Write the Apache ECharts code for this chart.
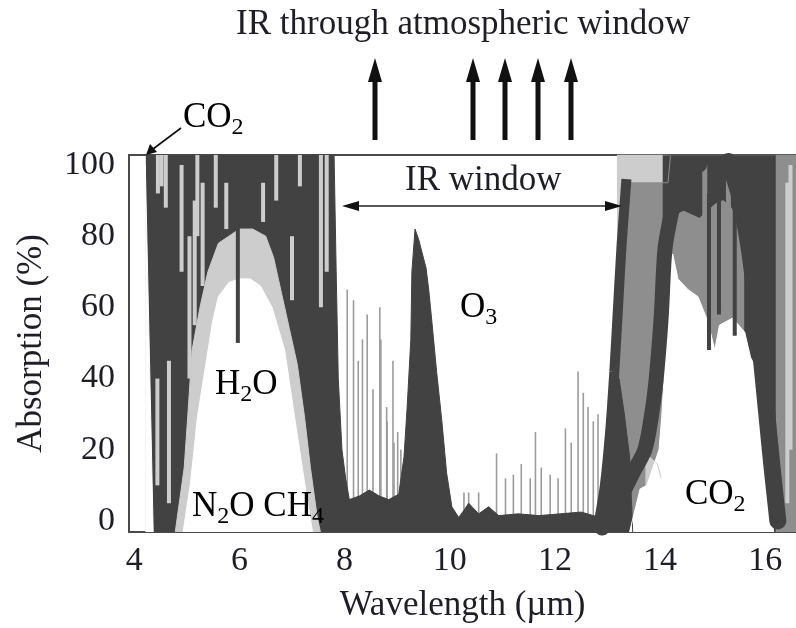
<!DOCTYPE html>
<html>
<head>
<meta charset="utf-8">
<script src="https://cdn.jsdelivr.net/npm/echarts@6/dist/echarts.min.js"></script>
<style>html,body{margin:0;padding:0;background:#fff}#c{width:796px;height:628px}</style>
</head>
<body>
<div id="c"></div>
<script>
// ---- tick labels ----
const xTicks = [4, 6, 8, 10, 12, 14, 16];
const yTicks = [0, 20, 40, 60, 80, 100];

// ---- dark absorption envelope: H2O band, window low band, O3 peak ----
const darkMainX = [4.22, 7.80, 7.84, 7.88, 7.95, 8.02, 8.09, 8.28, 8.47, 8.66, 8.84, 9.03, 9.13, 9.19, 9.26, 9.28, 9.34, 9.41, 9.55, 9.60, 9.66, 9.75, 9.85, 9.94, 10.04, 10.17, 10.27, 10.36, 10.55, 10.74, 10.93, 11.30, 11.70, 12.10, 12.50, 12.85];
const darkMainY = [102.8, 102.8, 70, 40, 20, 12, 6, 7, 8.7, 7, 6, 7.5, 18, 32, 51, 70, 82, 79, 71, 65, 56, 42, 28, 13.5, 4, 1, 3, 5, 2, 4, 1.5, 2, 1.5, 2, 2.5, 1];
// slanted left edge of the band (transparent wedge)
const h2oEdgeX = [4.21, 4.36];
const h2oEdgeY = [100, -3.1];

// ---- H2O band: light fringe and transparent (white) hole ----
const h2oLightX = [4.78, 4.95, 5.02, 5.10, 5.25, 5.40, 5.60, 5.80, 6.00, 6.25, 6.50, 6.65, 6.80, 6.95, 7.10, 7.24, 7.35, 7.48, 7.54];
const h2oLightY = [-3.1, 15, 30, 48, 60, 70, 78, 80, 82, 82, 80, 74, 64, 54, 44, 29, 15, 1, -3.1];
const h2oHoleX = [4.93, 5.07, 5.20, 5.35, 5.49, 5.60, 5.80, 6.00, 6.20, 6.40, 6.62, 6.86, 7.05, 7.24, 7.39];
const h2oHoleY = [-3.1, 10.7, 29, 43, 56, 63, 67, 68, 68, 66, 60, 48, 29, 10.7, -3.1];

// ---- CO2 15 um band ----
const co2LightX = [13.18, 14.20];
const co2LightY = [102.8, 102.8];
const co2MidX = [12.88, 13.00, 13.10, 13.20, 13.28, 13.34, 13.40, 14.15, 14.20, 16.60];
const co2MidY = [-3.1, 15, 35, 60, 80, 90, 95, 95, 102.8, 102.8];
const co2BaseX = [12.80, 12.92, 13.02, 13.12, 13.22, 13.32, 13.42, 13.48];
const co2BaseY = [-3.1, 10, 24, 36, 40, 30, 18, -3.1];
const co2EdgeX = [12.84, 12.95, 13.05, 13.13, 13.20, 13.27, 13.33, 13.36];
const co2EdgeY = [0, 10, 25, 42, 60, 78, 90, 96];
const co2CapX = [14.05, 16.20];
const co2CapY = [102.8, 102.8];
const co2MidHoleX = [14.15, 14.30, 14.45, 14.60, 14.75, 14.90, 15.05, 15.20, 15.35, 15.50, 15.60];
const co2MidHoleY = [84, 86, 87, 86, 85, 87, 89, 90, 88, 84, 70];
const co2BlobX = [13.72, 13.80, 13.95, 14.02];
const co2BlobY = [18, 18, 16, 12];
const co2HoleX = [13.42, 13.62, 13.75, 13.98, 14.03, 14.07, 14.11, 14.16, 14.24, 14.34, 14.53, 14.72, 14.91, 15.04, 15.13, 15.38, 15.61, 15.72, 15.85, 15.98, 16.10, 16.16];
const co2HoleY = [-3.1, 9, 10, 20, 29, 39, 57, 70, 75, 68, 65, 63, 56, 48, 55, 57, 53, 46, 42, 23, 4, -3.1];
const co2LeftStripeX = [12.90, 13.10, 13.30, 13.50, 13.71, 13.83, 13.92, 14.02, 14.09, 14.18, 14.28, 14.45, 14.58, 14.75];
const co2LeftStripeY = [-2, 2, 8, 14, 20, 29, 39, 57, 76, 84, 90, 96, 99, 100];
const co2RightStripeX = [15.30, 15.50, 15.68, 15.82, 15.93, 16.03, 16.13, 16.24];
const co2RightStripeY = [101, 92, 78, 62, 45, 30, 15, 0];

// ---- individual absorption lines (spikes) in the window ----
const spikeX = [8.05, 8.17, 8.26, 8.34, 8.43, 8.54, 8.67, 8.69, 8.80, 8.81, 8.92, 8.94, 9.01, 9.07, 10.27, 10.36, 10.55, 10.89, 11.06, 11.21, 11.36, 11.53, 11.63, 11.74, 11.91, 12.06, 12.20, 12.31, 12.44, 12.54, 12.63, 12.73, 12.82, 12.95];
const spikeH = [65, 62, 45, 51, 58, 37, 60, 51, 32, 28, 45, 22, 25, 20, 8, 8, 8, 19, 12, 13, 16, 12, 25, 15, 13, 12, 26, 22, 42, 36, 32, 28, 30, 22];

// ---- streaks inside the bands ----
const darkStreakX = [5.97, 14.93, 15.12, 15.42];
const darkStreakLo = [50, 48, 58, 52];
const darkStreakHi = [85, 92, 92, 94];
const lightStreakX = [4.45, 4.52, 4.60, 4.90, 5.20, 5.55, 5.75, 6.70, 7.15, 7.55, 7.66, 4.44, 4.66, 5.05, 5.15, 5.30, 6.45, 7.00, 16.42, 16.48];
const lightStreakLo = [92, 94, 88, 70, 80, 88, 82, 90, 94, 60, 70, 10, 5, 40, 55, 66, 84, 62, 5, 20];
const lightStreakHi = [102.8, 102.8, 102.8, 100, 102.8, 102.8, 95, 102.8, 102.8, 102.8, 102.8, 40, 45, 80, 90, 95, 95, 80, 95, 100];
const midStreakX = [14.85, 15.30, 16.32];
const midStreakLo = [78, 62, 0];
const midStreakHi = [100, 96, 100];

const Y_MIN = -3.1, Y_MAX = 102.8;
const FONT = '"Liberation Serif", "DejaVu Serif", serif';
const TXT = '#1e1e26';
const DARK = '#424242', MID = '#8e8e8e', LIGHT = '#cdcdcd', SPIKE = '#9c9c9c';

function zip(xs, ys) { return xs.map((x, i) => [x, ys[i]]); }
function area(name, xs, ys, color, z) {
  return {
    name, type: 'line', z, data: zip(xs, ys), symbol: 'none', silent: true,
    lineStyle: { width: 1, color }, areaStyle: { color, opacity: 1, origin: 'start' },
    animation: false, clip: true
  };
}
function stripe(name, xs, ys, width, z, cap) {
  return {
    name, type: 'line', z, data: zip(xs, ys), symbol: 'none', silent: true, smooth: 0.3,
    lineStyle: { width, color: DARK, cap: cap || 'round' }, animation: false, clip: true
  };
}
function streaks(name, xs, los, his, color, w, z) {
  return {
    name, type: 'custom', z, silent: true, animation: false, clip: true,
    data: xs.map((x, i) => [x, los[i], his[i]]),
    renderItem: function (params, api) {
      const top = api.coord([api.value(0), api.value(2)]);
      const bot = api.coord([api.value(0), api.value(1)]);
      return { type: 'rect', shape: { x: top[0] - w / 2, y: top[1], width: w, height: bot[1] - top[1] }, style: { fill: color } };
    }
  };
}

const chart = echarts.init(document.getElementById('c'), null, { renderer: 'canvas' });

const rich = {
  a: { fontFamily: FONT, fontSize: 35, color: TXT, lineHeight: 44, verticalAlign: 'middle' },
  s: { fontFamily: FONT, fontSize: 24, color: TXT, lineHeight: 24, verticalAlign: 'bottom' }
};
function label(x, y, text) {
  return { type: 'text', x, y, silent: true, style: { text, rich, align: 'left', verticalAlign: 'middle' }, z: 100 };
}
const upArrowX = [375, 473, 505, 538, 571];
const graphics = [
  { type: 'text', x: 463, y: 25, style: { text: 'IR through atmospheric window', fontFamily: FONT, fontSize: 35, fill: TXT, align: 'center', verticalAlign: 'middle' }, z: 100 },
  label(183, 118, '{a|CO}{s|2}'),
  { type: 'line', shape: { x1: 181, y1: 128, x2: 153, y2: 149 }, style: { stroke: '#111', lineWidth: 1.6 }, z: 100 },
  { type: 'polygon', shape: { points: [[146, 155], [150, 144], [157, 152]] }, style: { fill: '#111' }, z: 100 },
  { type: 'text', x: 405, y: 181, style: { text: 'IR window', fontFamily: FONT, fontSize: 35, fill: TXT, align: 'left', verticalAlign: 'middle' }, z: 100 },
  { type: 'line', shape: { x1: 350, y1: 206, x2: 614, y2: 206 }, style: { stroke: '#222', lineWidth: 1.6 }, z: 100 },
  { type: 'polygon', shape: { points: [[342, 206], [359, 201], [359, 211]] }, style: { fill: '#111' }, z: 100 },
  { type: 'polygon', shape: { points: [[622, 206], [605, 201], [605, 211]] }, style: { fill: '#111' }, z: 100 },
  label(460, 308, '{a|O}{s|3}'),
  label(215, 385, '{a|H}{s|2}{a|O}'),
  label(192, 507, '{a|N}{s|2}{a|O CH}{s|4}'),
  label(685, 495, '{a|CO}{s|2}')
];
upArrowX.forEach(x => {
  graphics.push({ type: 'rect', shape: { x: x - 2.5, y: 78, width: 5, height: 62 }, style: { fill: '#111' }, z: 100 });
  graphics.push({ type: 'polygon', shape: { points: [[x - 7, 82], [x + 7, 82], [x, 58]] }, style: { fill: '#111' }, z: 100 });
});

const option = {
  backgroundColor: '#ffffff',
  animation: false,
  grid: { left: 129, top: 155, right: -3, bottom: 96, show: true, borderColor: '#4a4a4a', borderWidth: 2, backgroundColor: 'transparent' },
  xAxis: {
    type: 'value', min: 3.90, max: 16.585,
    axisLine: { show: false }, axisTick: { show: false }, splitLine: { show: false },
    axisLabel: { customValues: xTicks, fontFamily: FONT, fontSize: 34, color: TXT, margin: 12 },
    name: 'Wavelength (\u00b5m)', nameLocation: 'middle', nameGap: 56,
    nameTextStyle: { fontFamily: FONT, fontSize: 35, color: TXT }
  },
  yAxis: {
    type: 'value', min: Y_MIN, max: Y_MAX,
    axisLine: { show: false }, axisTick: { show: false }, splitLine: { show: false },
    axisLabel: { customValues: yTicks, fontFamily: FONT, fontSize: 34, color: TXT, margin: 14 },
    name: 'Absorption (%)', nameLocation: 'middle', nameGap: 80, nameRotate: 90,
    nameTextStyle: { fontFamily: FONT, fontSize: 35, color: TXT }
  },
  graphic: graphics,
  series: [
    streaks('spikes', spikeX, spikeX.map(() => Y_MIN), spikeH, SPIKE, 1.6, 2),
    area('darkMain', darkMainX, darkMainY, DARK, 3),
    area('h2oEdge', h2oEdgeX, h2oEdgeY, '#ffffff', 3),
    area('h2oLight', h2oLightX, h2oLightY, LIGHT, 3),
    area('h2oHole', h2oHoleX, h2oHoleY, '#ffffff', 3),
    area('co2Light', co2LightX, co2LightY, LIGHT, 3),
    area('co2Mid', co2MidX, co2MidY, MID, 3),
    area('co2Base', co2BaseX, co2BaseY, DARK, 3),
    area('co2Cap', co2CapX, co2CapY, DARK, 3),
    area('co2MidHole', co2MidHoleX, co2MidHoleY, MID, 3),
    area('co2Blob', co2BlobX, co2BlobY, LIGHT, 3),
    area('co2Hole', co2HoleX, co2HoleY, '#ffffff', 3),
    streaks('midStreaks', midStreakX, midStreakLo, midStreakHi, MID, 5, 4),
    streaks('darkStreaks', darkStreakX, darkStreakLo, darkStreakHi, DARK, 4, 4),
    streaks('lightStreaks', lightStreakX, lightStreakLo, lightStreakHi, LIGHT, 4, 4),
    stripe('co2Edge', co2EdgeX, co2EdgeY, 10, 5, 'butt'),
    stripe('co2LeftStripe', co2LeftStripeX, co2LeftStripeY, 15, 5),
    stripe('co2RightStripe', co2RightStripeX, co2RightStripeY, 17, 5)
  ]
};
chart.setOption(option);
</script>
</body>
</html>
